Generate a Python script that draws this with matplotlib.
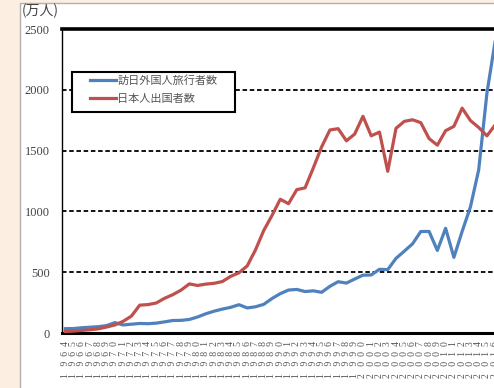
import matplotlib
matplotlib.use("Agg")
import matplotlib.pyplot as plt
from matplotlib.patches import Rectangle

plt.rcParams['font.family'] = ['Noto Sans CJK JP', 'DejaVu Sans']

years = list(range(1964, 2017))
# 訪日外国人旅行者数 (万人)
visitors = [35.3, 36.7, 43.3, 47.7, 51.9, 60.9, 85.4, 66.0, 72.4, 78.5,
            76.4, 81.2, 91.5, 102.8, 103.9, 111.3, 131.7, 158.3, 179.3, 196.8,
            211.0, 232.7, 206.2, 215.5, 235.5, 283.5, 323.6, 353.3, 358.2, 341.0,
            346.8, 334.5, 383.7, 421.8, 410.6, 443.8, 475.7, 477.2, 523.9, 521.2,
            613.8, 672.8, 733.4, 834.7, 835.1, 679.0, 861.1, 621.9, 835.8, 1036.4,
            1341.3, 1973.7, 2403.9]
# 日本人出国者数 (万人)
outbound = [12.8, 15.9, 21.2, 26.8, 34.4, 49.3, 66.3, 96.1, 139.2, 228.9,
            233.6, 246.6, 285.3, 315.1, 352.6, 403.8, 390.9, 402.1, 408.6, 423.3,
            465.9, 494.8, 551.6, 682.9, 842.7, 966.3, 1099.7, 1063.4, 1179.1, 1193.4,
            1357.9, 1529.8, 1669.5, 1680.3, 1580.6, 1635.8, 1781.9, 1621.6, 1652.3, 1329.6,
            1683.1, 1740.4, 1753.5, 1729.5, 1598.7, 1544.6, 1663.7, 1699.4, 1849.1, 1747.3,
            1690.3, 1621.4, 1711.6]
yticks = [0, 500, 1000, 1500, 2000, 2500]


def spaced(y):
    # digits stacked with wide gaps, like the original's vertical axis text
    s = str(y)
    return s[0] + "   " + "  ".join(s[1:])


W, H = 494, 388
fig = plt.figure(figsize=(W / 100, H / 100), dpi=100, facecolor="#fdeee2")
frame = Rectangle((20 / W, -0.01), 1.0, (H - 3) / H + 0.01, transform=fig.transFigure,
                  facecolor="white", edgecolor="#b0b0b0", lw=1, zorder=-5)
fig.patches.append(frame)

ax = fig.add_axes([62 / W, (H - 333) / H, 1 - 62 / W + 0.01, (333 - 29) / H])
ax.set_facecolor("white")
ax.plot(years, visitors, color="#4f81bd", lw=2.3, label="訪日外国人旅行者数", zorder=3)
ax.plot(years, outbound, color="#c0504d", lw=2.3, label="日本人出国者数", zorder=3)

ax.set_xlim(1963.6, 2016.45)
ax.set_ylim(0, 2500)
ax.set_yticks(yticks)
ax.set_yticklabels([str(v) for v in yticks], family="Liberation Serif", fontsize=9, color="#444444")
ax.set_xticks(years)
ax.set_xticklabels([spaced(y) for y in years], rotation=90, family="Liberation Serif",
                   fontsize=7, color="#555555")
ax.tick_params(axis="y", length=0, pad=9)
ax.tick_params(axis="x", length=0, pad=6)
for v in yticks[1:-1]:
    ax.axhline(v, color="black", lw=1.3, ls=(0, (2.5, 1.5)), zorder=1)

ax.spines["right"].set_visible(False)
ax.spines["left"].set_linewidth(1.0)
ax.spines["top"].set_linewidth(2.6)
ax.spines["bottom"].set_linewidth(2.2)

fig.text(22 / W, 1 - 11 / H, "(万人)", fontsize=10, va="center", ha="left", color="#444444")

# legend box
box = Rectangle((72 / W, 1 - 112 / H), 163 / W, 40 / H, transform=fig.transFigure,
                facecolor="white", edgecolor="black", lw=1.5, zorder=4)
ax.add_patch(box)
leg = ax.legend(loc="upper left", bbox_to_anchor=(90 / W, 1 - 75 / H), bbox_transform=fig.transFigure,
                fontsize=8, frameon=False, handlelength=2.3, handletextpad=0.15,
                borderpad=0, labelspacing=0.75, borderaxespad=0)
leg.set_zorder(5)
for t in leg.get_texts():
    t.set_color("#555555")

fig.savefig("out.png", dpi=100, facecolor=fig.get_facecolor())
